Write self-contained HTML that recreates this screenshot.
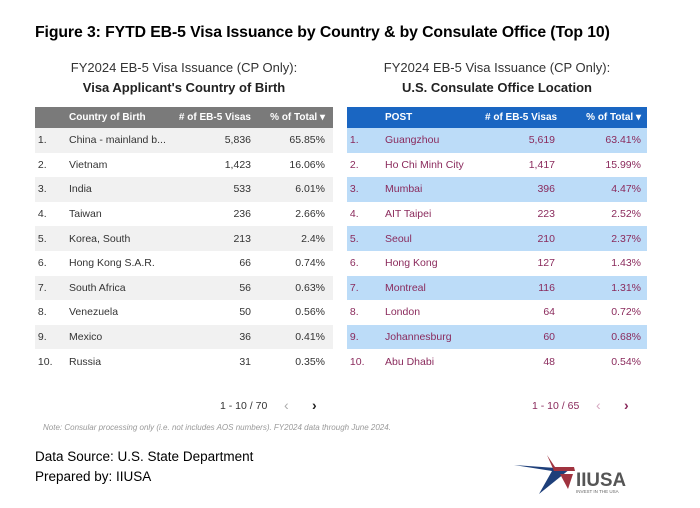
<!DOCTYPE html>
<html><head><meta charset="utf-8"><style>
body{margin:0;width:700px;height:508px;background:#fff;font-family:"Liberation Sans",sans-serif;position:relative;overflow:hidden}
.a{position:absolute;white-space:nowrap}
.t{left:35px;top:24px;font-weight:bold;font-size:15.8px;color:#000;letter-spacing:-0.1px}
.sub{font-size:13px;color:#333;text-align:center;width:300px}
table{position:absolute;border-collapse:collapse;font-size:10.5px;table-layout:fixed}
td,th{height:24.6px;padding:0;white-space:nowrap}
th{height:21px;font-weight:bold;font-size:10px;color:#fff;text-align:left}
.r{text-align:right}
#L{left:35px;top:107px;width:298px}
#L th{background:#7a7a7a}
#L tr:nth-child(even) td{background:#f1f1f1}
#L td{color:#333}
#R{left:347px;top:107px;width:300px}
#R th{background:#1a66c2}
#R tr:nth-child(even) td{background:#bcdcf8}
#R td{color:#8a2a5c}
</style></head><body>
<div class="a t">Figure 3: FYTD EB-5 Visa Issuance by Country &amp; by Consulate Office (Top 10)</div>
<div class="a sub" style="left:34px;top:60px">FY2024 EB-5 Visa Issuance (CP Only):</div>
<div class="a sub" style="left:34px;top:80px;font-weight:bold;color:#222">Visa Applicant's Country of Birth</div>
<div class="a sub" style="left:347px;top:60px">FY2024 EB-5 Visa Issuance (CP Only):</div>
<div class="a sub" style="left:347px;top:80px;font-weight:bold;color:#222">U.S. Consulate Office Location</div>
<table id="L"><colgroup><col style="width:34px"><col style="width:102px"><col style="width:80px"><col style="width:74px"><col style="width:8px"></colgroup>
<tr><th></th><th>Country of Birth</th><th class="r"># of EB-5 Visas</th><th class="r">% of Total ▾</th><th></th></tr>
<tr><td>&nbsp;1.</td><td>China - mainland b...</td><td class="r">5,836</td><td class="r">65.85%</td><td></td></tr>
<tr><td>&nbsp;2.</td><td>Vietnam</td><td class="r">1,423</td><td class="r">16.06%</td><td></td></tr>
<tr><td>&nbsp;3.</td><td>India</td><td class="r">533</td><td class="r">6.01%</td><td></td></tr>
<tr><td>&nbsp;4.</td><td>Taiwan</td><td class="r">236</td><td class="r">2.66%</td><td></td></tr>
<tr><td>&nbsp;5.</td><td>Korea, South</td><td class="r">213</td><td class="r">2.4%</td><td></td></tr>
<tr><td>&nbsp;6.</td><td>Hong Kong S.A.R.</td><td class="r">66</td><td class="r">0.74%</td><td></td></tr>
<tr><td>&nbsp;7.</td><td>South Africa</td><td class="r">56</td><td class="r">0.63%</td><td></td></tr>
<tr><td>&nbsp;8.</td><td>Venezuela</td><td class="r">50</td><td class="r">0.56%</td><td></td></tr>
<tr><td>&nbsp;9.</td><td>Mexico</td><td class="r">36</td><td class="r">0.41%</td><td></td></tr>
<tr><td>&nbsp;10.</td><td>Russia</td><td class="r">31</td><td class="r">0.35%</td><td></td></tr>
</table>
<table id="R"><colgroup><col style="width:38px"><col style="width:100px"><col style="width:70px"><col style="width:86px"><col style="width:6px"></colgroup>
<tr><th></th><th>POST</th><th class="r"># of EB-5 Visas</th><th class="r">% of Total ▾</th><th></th></tr>
<tr><td>&nbsp;1.</td><td>Guangzhou</td><td class="r">5,619</td><td class="r">63.41%</td><td></td></tr>
<tr><td>&nbsp;2.</td><td>Ho Chi Minh City</td><td class="r">1,417</td><td class="r">15.99%</td><td></td></tr>
<tr><td>&nbsp;3.</td><td>Mumbai</td><td class="r">396</td><td class="r">4.47%</td><td></td></tr>
<tr><td>&nbsp;4.</td><td>AIT Taipei</td><td class="r">223</td><td class="r">2.52%</td><td></td></tr>
<tr><td>&nbsp;5.</td><td>Seoul</td><td class="r">210</td><td class="r">2.37%</td><td></td></tr>
<tr><td>&nbsp;6.</td><td>Hong Kong</td><td class="r">127</td><td class="r">1.43%</td><td></td></tr>
<tr><td>&nbsp;7.</td><td>Montreal</td><td class="r">116</td><td class="r">1.31%</td><td></td></tr>
<tr><td>&nbsp;8.</td><td>London</td><td class="r">64</td><td class="r">0.72%</td><td></td></tr>
<tr><td>&nbsp;9.</td><td>Johannesburg</td><td class="r">60</td><td class="r">0.68%</td><td></td></tr>
<tr><td>&nbsp;10.</td><td>Abu Dhabi</td><td class="r">48</td><td class="r">0.54%</td><td></td></tr>
</table>
<div class="a" style="left:220px;top:400px;font-size:10.5px;color:#333">1 - 10 / 70</div>
<div class="a" style="left:284px;top:397px;font-size:14px;color:#aaa">‹</div>
<div class="a" style="left:312px;top:397px;font-size:14px;color:#222;font-weight:bold">›</div>
<div class="a" style="left:532px;top:400px;font-size:10.5px;color:#8a2a5c">1 - 10 / 65</div>
<div class="a" style="left:596px;top:397px;font-size:14px;color:#d6a8c0">‹</div>
<div class="a" style="left:624px;top:397px;font-size:14px;color:#8a2a5c;font-weight:bold">›</div>
<div class="a" style="left:43px;top:423px;font-size:8px;color:#999;font-style:italic">Note: Consular processing only (i.e. not includes AOS numbers). FY2024 data through June 2024.</div>
<div class="a" style="left:35px;top:449px;font-size:13.5px;color:#000">Data Source: U.S. State Department</div>
<div class="a" style="left:35px;top:469px;font-size:13.5px;color:#000">Prepared by: IIUSA</div>
<svg class="a" style="left:510px;top:450px" width="120" height="50">
<polygon points="4,15 60,19 29,44 42,21" fill="#1e3f7a"/>
<polygon points="37,5 45,17 64,17 65,21 44,21" fill="#a0333f"/>
<polygon points="50,24 63,24 58,39" fill="#a0333f"/>
<text x="66" y="36" font-family="Liberation Sans" font-weight="bold" font-size="19" fill="#555" textLength="50" lengthAdjust="spacingAndGlyphs">IIUSA</text>
<text x="66" y="43" font-family="Liberation Sans" font-size="4.5" fill="#666">INVEST IN THE USA</text>
</svg>
</body></html>
